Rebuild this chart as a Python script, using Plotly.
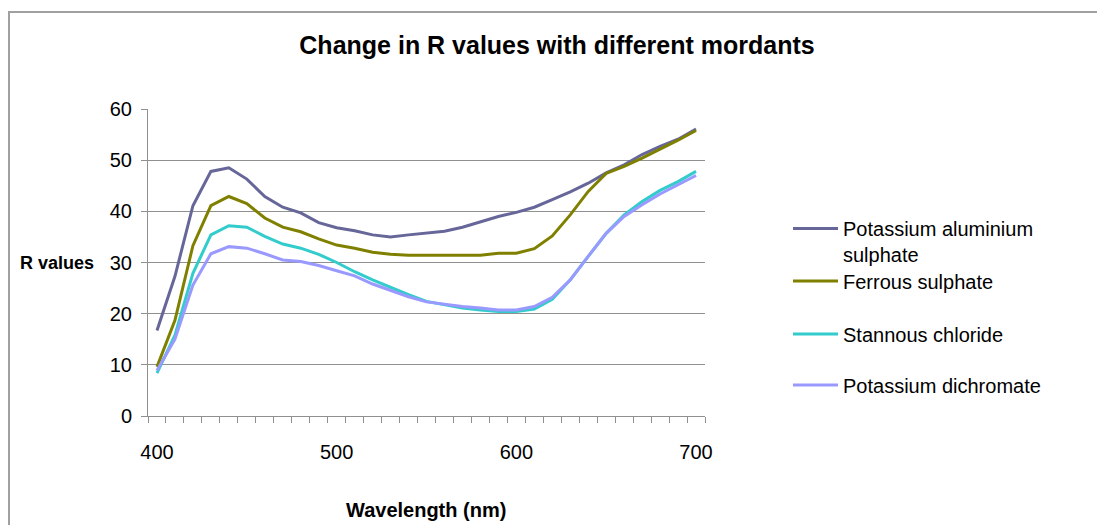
import plotly.graph_objects as go

wavelength = list(range(400, 701, 10))

pot_aluminium = [16.7, 27.3, 41.1, 47.8, 48.5, 46.3, 42.9, 40.8, 39.7, 37.8,
                 36.8, 36.2, 35.4, 35.0, 35.4, 35.7, 36.1, 36.9, 38.0, 39.0,
                 39.8, 40.8, 42.3, 43.8, 45.5, 47.5, 49.1, 51.1, 52.7, 54.1, 56.1]
ferrous = [9.6, 18.7, 33.3, 41.1, 42.9, 41.5, 38.7, 36.9, 36.0, 34.6,
           33.4, 32.8, 32.0, 31.6, 31.4, 31.4, 31.4, 31.4, 31.4, 31.8,
           31.8, 32.7, 35.2, 39.3, 43.9, 47.4, 48.8, 50.4, 52.1, 53.9, 55.8]
stannous = [8.4, 15.8, 27.9, 35.4, 37.2, 36.9, 35.1, 33.6, 32.8, 31.6,
            30.0, 28.2, 26.6, 25.1, 23.7, 22.4, 21.7, 21.1, 20.7, 20.4,
            20.4, 20.9, 22.8, 26.6, 31.2, 35.7, 39.3, 41.9, 44.1, 45.8, 47.8]
dichromate = [8.9, 15.0, 25.6, 31.7, 33.1, 32.8, 31.7, 30.5, 30.2, 29.4,
              28.4, 27.4, 25.8, 24.5, 23.3, 22.3, 21.8, 21.4, 21.1, 20.7,
              20.7, 21.4, 23.2, 26.6, 31.2, 35.7, 39.0, 41.3, 43.4, 45.2, 47.0]

names = ["Potassium aluminium<br>sulphate", "Ferrous sulphate",
         "Stannous chloride", "Potassium dichromate"]
colors = ["#666699", "#808000", "#33CCCC", "#9999FF"]
series = [pot_aluminium, ferrous, stannous, dichromate]

FONT = "Liberation Sans, Arial"
legend_keys = ["legend", "legend2", "legend3", "legend4"]

# plot area in pixels (left, right, top, bottom) inside the figure
L, R, T, B = 140, 697, 101, 408
W, H = 1105, 525


def px(x):
    return (x - L) / (R - L)


def py(y):
    return (B - y) / (B - T)


fig = go.Figure()
for vals, name, col, lg in zip(series, names, colors, legend_keys):
    fig.add_trace(go.Scatter(
        x=wavelength, y=vals, mode='lines', name=name,
        line=dict(color=col, width=3), legend=lg
    ))

# one legend per entry so the spacing matches the Excel layout
legend_y = [201, 273, 326, 377]
legends = {}
for i, (lg, ly) in enumerate(zip(legend_keys, legend_y)):
    legends[lg] = dict(
        x=px(780), xanchor='left',
        y=py(ly), yanchor='top' if i == 0 else 'middle',
        valign='top', itemwidth=45,
        font=dict(family=FONT, size=20, color='black'),
        bgcolor='rgba(0,0,0,0)'
    )

fig.update_layout(
    width=W, height=H,
    margin=dict(l=L, r=W - R, t=T, b=H - B),
    paper_bgcolor='white', plot_bgcolor='white',
    font=dict(family=FONT, size=20, color='black'),
    title=dict(text="<b>Change in R values with different mordants</b>",
               x=549 / W, xanchor='center', y=1 - 37 / H, yanchor='middle',
               font=dict(family=FONT, size=25, color='black')),
    xaxis=dict(
        range=[395, 705], tickvals=[400, 500, 600, 700],
        ticks='', showgrid=False, zeroline=False,
        showline=True, linecolor='#909090', linewidth=1,
        tickfont=dict(family=FONT, size=20), ticklabelstandoff=18,
        minor=dict(tick0=395, dtick=10, ticks='outside', ticklen=6,
                   tickcolor='#909090', showgrid=False)
    ),
    yaxis=dict(
        range=[0, 60], dtick=10, ticks='outside', ticklen=6,
        tickcolor='#909090', showgrid=True, gridcolor='#909090',
        gridwidth=1, zeroline=False, showline=True,
        linecolor='#909090', linewidth=1,
        tickfont=dict(family=FONT, size=20), ticklabelstandoff=5
    ),
    annotations=[
        dict(text="<b>R values</b>", xref='paper', yref='paper',
             x=px(88), y=py(255), xanchor='right', yanchor='middle',
             showarrow=False, font=dict(family=FONT, size=18)),
        dict(text="<b>Wavelength (nm)</b>", xref='paper', yref='paper',
             x=px(418), y=py(502), xanchor='center',
             yanchor='middle', showarrow=False, font=dict(family=FONT, size=20)),
    ],
    shapes=[dict(type='rect', xref='paper', yref='paper',
                 x0=px(1), x1=px(1130), y0=py(560), y1=py(4),
                 line=dict(color='#A0A0A0', width=2), layer='below')],
    showlegend=True,
    **legends
)

fig.write_html("out.html")
